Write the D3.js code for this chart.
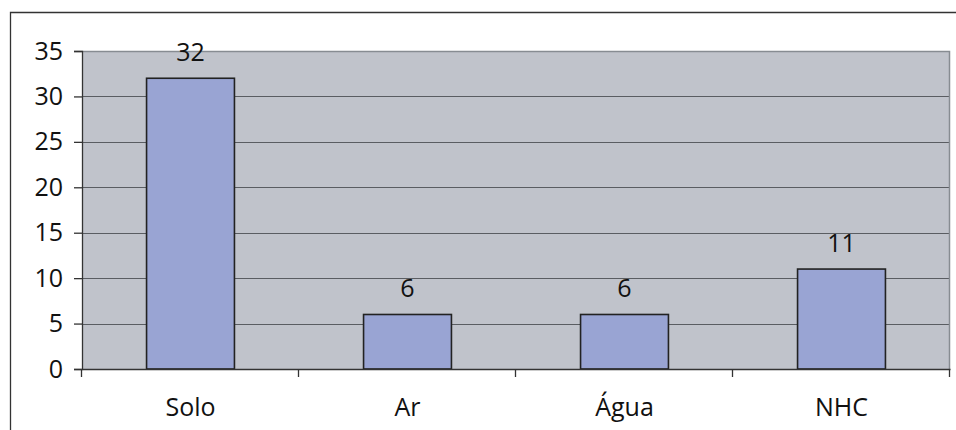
<!DOCTYPE html>
<html>
<head>
<meta charset="utf-8">
<script src="https://cdn.jsdelivr.net/npm/d3@7"></script>
<style>
  body { margin: 0; background: #fff; }
  text { font-family: "Open Sans", "Noto Sans", sans-serif; fill: #111; }
</style>
</head>
<body>
<svg id="chart"></svg>
<script>
var categories = ["Solo", "Ar", "Água", "NHC"];
var values = [32, 6, 6, 11];
var yTicks = [0, 5, 10, 15, 20, 25, 30, 35];

var width = 956;
var height = 430;
var plot = {left: 82, right: 950, top: 51, bottom: 369};
var fontSize = 25;

var svg = d3.select("#chart")
  .attr("width", width)
  .attr("height", height);

// outer frame (cut off at right and bottom in the original)
svg.append("path")
  .attr("d", "M10.5," + height + "V12.5H" + width)
  .attr("fill", "none")
  .attr("stroke", "#333")
  .attr("stroke-width", 1.3);

var x = d3.scaleBand()
  .domain(categories)
  .range([plot.left, plot.right])
  .paddingInner(0.595)
  .paddingOuter(0.2975);

var band = d3.scaleBand()
  .domain(categories)
  .range([plot.left, plot.right]);

var y = d3.scaleLinear()
  .domain([0, 35])
  .range([plot.bottom, plot.top]);

// plot background
svg.append("rect")
  .attr("x", plot.left)
  .attr("y", plot.top)
  .attr("width", plot.right - plot.left)
  .attr("height", plot.bottom - plot.top)
  .attr("fill", "#c0c3cb");

// gridlines
svg.append("g")
  .selectAll("line")
  .data(yTicks.filter(function(d) { return d > 0 && d < 35; }))
  .enter().append("line")
    .attr("x1", plot.left)
    .attr("x2", plot.right)
    .attr("y1", function(d) { return Math.round(y(d)) + 0.5; })
    .attr("y2", function(d) { return Math.round(y(d)) + 0.5; })
    .attr("stroke", "#5a5d62")
    .attr("stroke-width", 1.2);

// top and right border of the plot area
svg.append("path")
  .attr("d", "M" + plot.left + "," + (plot.top + 0.5) + "H" + (plot.right - 0.5) + "V" + plot.bottom)
  .attr("fill", "none")
  .attr("stroke", "#878c92")
  .attr("stroke-width", 1.5);

// bars
svg.append("g")
  .selectAll("rect")
  .data(values)
  .enter().append("rect")
    .attr("x", function(d, i) { return x(categories[i]); })
    .attr("y", function(d) { return y(d); })
    .attr("width", x.bandwidth())
    .attr("height", function(d) { return y(0) - y(d); })
    .attr("fill", "#99a4d3")
    .attr("stroke", "#222")
    .attr("stroke-width", 1.6);

// value labels
svg.append("g")
  .selectAll("text")
  .data(values)
  .enter().append("text")
    .attr("x", function(d, i) { return x(categories[i]) + x.bandwidth() / 2; })
    .attr("y", function(d) { return y(d) - 17; })
    .attr("text-anchor", "middle")
    .style("font-size", fontSize + "px")
    .text(function(d) { return d; });

// y axis
var yAxis = svg.append("g")
  .attr("transform", "translate(" + plot.left + ",0)")
  .call(d3.axisLeft(y).tickValues(yTicks).tickSize(8).tickPadding(11));
yAxis.attr("font-size", fontSize).attr("font-family", null);
yAxis.select(".domain").attr("stroke", "#333").attr("stroke-width", 1.3);
yAxis.selectAll(".tick line").attr("stroke", "#333").attr("stroke-width", 1.3);
yAxis.selectAll("text")
  .style("font-size", fontSize + "px")
  .attr("fill", "#111");

// x axis
var xAxis = svg.append("g")
  .attr("transform", "translate(0," + plot.bottom + ")")
  .call(d3.axisBottom(band).tickSize(0).tickPadding(29));
xAxis.attr("font-size", fontSize).attr("font-family", null);
xAxis.select(".domain").attr("stroke", "#333").attr("stroke-width", 1.3);
xAxis.selectAll("text")
  .style("font-size", fontSize + "px")
  .attr("fill", "#111");

// tick marks between categories
var bounds = categories.map(function(c) { return band(c); }).concat([plot.right]);
svg.append("g")
  .selectAll("line")
  .data(bounds)
  .enter().append("line")
    .attr("x1", function(d) { return Math.round(d) - 0.5; })
    .attr("x2", function(d) { return Math.round(d) - 0.5; })
    .attr("y1", plot.bottom)
    .attr("y2", plot.bottom + 8)
    .attr("stroke", "#333")
    .attr("stroke-width", 1.3);
</script>
</body>
</html>
